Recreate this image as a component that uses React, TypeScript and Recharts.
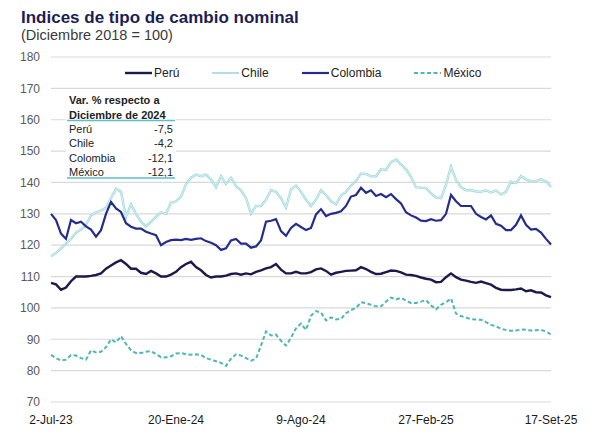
import { LineChart, Line, XAxis, YAxis, CartesianGrid, Legend } from "recharts";

const fechas = ["2-Jul-23", "20-Ene-24", "9-Ago-24", "27-Feb-25", "17-Set-25"];
const posFechas = [0, 25, 50, 75, 100];
const ticksY = [70, 80, 90, 100, 110, 120, 130, 140, 150, 160, 170, 180];

const peru = [
  108, 107.5, 105.8, 106.5, 108.5, 110, 110, 110, 110.2, 110.5,
  111, 112.5, 113.5, 114.5, 115.2, 114, 112.5, 112.5, 111.2, 110.8,
  111.8, 111, 110, 110, 110.6, 111.5, 113, 114, 114.7, 113,
  112, 110.5, 109.7, 110, 110, 110.3, 110.8, 111, 110.6, 111,
  110.7, 111.5, 112, 112.6, 113, 114, 112.2, 111, 111, 111.5,
  111, 111, 111.4, 112.3, 112.6, 111.8, 110.6, 111.2, 111.5, 111.8,
  111.9, 112, 113, 112.4, 111.5, 110.8, 110.9, 111.4, 111.9, 111.8,
  111.3, 110.6, 110.5, 110.2, 109.7, 109.3, 109, 108.2, 108.3, 109.8,
  111, 109.8, 109, 108.7, 108.3, 108, 108.4, 107.9, 107.4, 106.4,
  105.8, 105.7, 105.7, 105.9, 106.2, 105.3, 105.6, 105, 104.9, 104, 103.4,
];

const chile = [
  116.5, 117.5, 119, 120.5, 122, 124, 125, 126.5, 129.5, 130.5,
  131, 132, 135, 138, 137, 129, 133, 130, 127.5, 126,
  127.5, 129, 130.5, 130, 133.5, 134, 135.5, 139.5, 141.5, 142.5,
  142, 142.5, 141, 138.5, 142, 139.5, 141.5, 138.8, 137.5, 135,
  130, 132.5, 132.5, 134.5, 137.5, 137, 135, 132, 137.8, 139,
  137, 134.5, 132.5, 134.5, 137.5, 136, 134, 133, 135.8, 137,
  139, 140.5, 142.8, 142.7, 142, 142, 144.2, 144, 146.5, 147.3,
  145.8, 144.2, 141.8, 138.5, 138.3, 138.2, 136.5, 135.2, 135, 139.3,
  145, 140.8, 138.5, 137.5, 137.6, 137.1, 137, 137.5, 136.8, 137.4,
  136.2, 137, 140.3, 139.8, 142, 141, 140.4, 140.5, 141, 140.4, 138.6,
];

const colombia = [
  130, 128, 123.7, 122, 128, 127, 127.5, 126, 125, 122.7,
  124.8, 130, 133.8, 131.7, 130.6, 127, 125.9, 125.3, 125.3, 124.3,
  123.7, 123.2, 120, 121, 121.6, 121.8, 121.6, 122, 121.7, 122,
  122.2, 121.3, 120.8, 120, 118.5, 119, 121.5, 122, 120.5, 120.5,
  119.2, 119.6, 121.5, 127.5, 127.8, 128.3, 124.5, 123, 125.5, 126.8,
  125.8, 124.8, 125.5, 129.8, 131.5, 129.3, 130, 130.3, 130.8, 132.5,
  135.5, 136, 138.3, 136.7, 137.5, 135.7, 136.3, 135.3, 136.3, 134.7,
  133.3, 130.5, 129.5, 128.8, 127.8, 127.7, 128.3, 127.8, 128, 130,
  136, 134, 132.5, 132.5, 132.5, 130, 129, 128.2, 129.5, 126.8,
  126.2, 124.8, 124.8, 126.5, 129.5, 126.5, 125, 125.2, 124, 122, 120.2,
];

const mexico = [
  85, 84, 83.2, 83.5, 85, 84.8, 84, 83.5, 86.5, 85.8,
  86, 87.5, 90, 89, 91, 88.5, 86.5, 85.6, 85.6, 86,
  86.2, 85.3, 84.3, 84.2, 84.6, 85.5, 85.6, 85.2, 85.1, 85.2,
  85, 84, 83.5, 83, 82.5, 81.5, 83.8, 85.2, 84.8, 84,
  83.2, 83.8, 88, 92.5, 91.2, 91.5, 89.5, 88, 90.5, 93.5,
  95, 93, 97.5, 99, 98.5, 96, 97, 96.3, 96.5, 98.3,
  99.3, 100, 101.8, 101.5, 101, 100.5, 100.5, 102, 103.3, 102.7,
  103.2, 102.3, 101.6, 101.6, 102, 102.5, 100.8, 99.5, 101, 101.8,
  103, 98.2, 97.4, 96.9, 96.4, 96.3, 96.2, 95.5, 94.6, 94.2,
  93.3, 93, 92.7, 92.8, 93.1, 93, 92.8, 92.9, 93, 92.5, 91.5,
];

const paisesTabla = ["Perú", "Chile", "Colombia", "México"];
const valoresTabla = ["-7,5", "-4,2", "-12,1", "-12,1"];

const FUENTE = '"Liberation Sans", Arial, sans-serif';

const SERIES = [
  { key: "peru", nombre: "Perú", color: "#1b1a4b", ancho: 2.4, guion: undefined },
  { key: "chile", nombre: "Chile", color: "#9fd8dc", ancho: 1.6, guion: undefined },
  { key: "colombia", nombre: "Colombia", color: "#252d8c", ancho: 2.2, guion: undefined },
  { key: "mexico", nombre: "México", color: "#4db6bb", ancho: 2, guion: "4 2.5" },
];

const datos = peru.map((v, i) => ({
  i,
  peru: v,
  chile: chile[i],
  colombia: colombia[i],
  mexico: mexico[i],
}));

function Leyenda() {
  return (
    <div style={{ display: "flex", gap: 33, fontFamily: FUENTE, fontSize: 12, color: "#222" }}>
      {SERIES.map((s) => (
        <div key={s.key} style={{ display: "flex", alignItems: "center", gap: 2 }}>
          <svg width={27} height={6}>
            <line
              x1={0}
              y1={3}
              x2={27}
              y2={3}
              stroke={s.color}
              strokeWidth={s.ancho}
              strokeDasharray={s.guion}
            />
          </svg>
          <span>{s.nombre}</span>
        </div>
      ))}
    </div>
  );
}

export default function App() {
  return (
    <div style={{ position: "absolute", left: 0, top: 0, width: 602, height: 448, background: "#fff" }}>
      <LineChart
        width={602}
        height={448}
        data={datos}
        margin={{ top: 57, right: 51, left: 0, bottom: 16 }}
      >
        <CartesianGrid vertical={false} stroke="#d9d9d9" strokeWidth={1.2} />
        <XAxis
          dataKey="i"
          type="number"
          domain={[0, 100]}
          ticks={posFechas}
          interval={0}
          tickFormatter={(v: number) => fechas[posFechas.indexOf(v)]}
          axisLine={false}
          tickLine={false}
          tickMargin={7}
          height={30}
          tick={{ fill: "#1a1a1a", fontSize: 12, fontFamily: FUENTE }}
        />
        <YAxis
          type="number"
          domain={[70, 180]}
          ticks={ticksY}
          interval={0}
          axisLine={false}
          tickLine={false}
          tickMargin={5}
          width={51}
          tick={{ fill: "#595959", fontSize: 12, fontFamily: FUENTE }}
        />
        <Legend
          layout="horizontal"
          verticalAlign="middle"
          align="center"
          wrapperStyle={{ top: 66, left: 125, width: "auto" }}
          content={() => <Leyenda />}
        />
        <Line dataKey="chile" stroke="#9fd8dc" strokeWidth={2.4} dot={false} isAnimationActive={false} />
        <Line dataKey="chile" stroke="#eaf8f9" strokeWidth={0.8} dot={false} isAnimationActive={false} />
        <Line dataKey="peru" stroke="#1b1a4b" strokeWidth={2.4} dot={false} isAnimationActive={false} />
        <Line dataKey="colombia" stroke="#252d8c" strokeWidth={2.2} dot={false} isAnimationActive={false} />
        <Line
          dataKey="mexico"
          stroke="#4db6bb"
          strokeWidth={2}
          strokeDasharray="4 2.5"
          dot={false}
          isAnimationActive={false}
        />
      </LineChart>
      <svg
        width={602}
        height={448}
        style={{ position: "absolute", left: 0, top: 0, pointerEvents: "none", fontFamily: FUENTE }}
      >
        <text x={21} y={23} fontSize={17} fontWeight="bold" fill="#1d1e55">
          Indices de tipo de cambio nominal
        </text>
        <text x={21} y={40} fontSize={14.5} fill="#3a3a3a">
          (Diciembre 2018 = 100)
        </text>
        <rect x={66} y={92} width={110} height={88} fill="#fff" />
        <text x={69} y={104} fontSize={11} fontWeight="bold" fill="#222">
          Var. % respecto a
        </text>
        <text x={69} y={118.5} fontSize={11} fontWeight="bold" fill="#222">
          Diciembre de 2024
        </text>
        <line x1={67} y1={120.5} x2={175} y2={120.5} stroke="#5bbfc4" strokeWidth={1.5} />
        {paisesTabla.map((p, i) => (
          <g key={p}>
            <text x={69} y={133 + i * 14.4} fontSize={11} fill="#222">
              {p}
            </text>
            <text x={173} y={133 + i * 14.4} fontSize={11} fill="#222" textAnchor="end">
              {valoresTabla[i]}
            </text>
          </g>
        ))}
        <line x1={67} y1={178} x2={175} y2={178} stroke="#5bbfc4" strokeWidth={1.5} />
      </svg>
    </div>
  );
}
